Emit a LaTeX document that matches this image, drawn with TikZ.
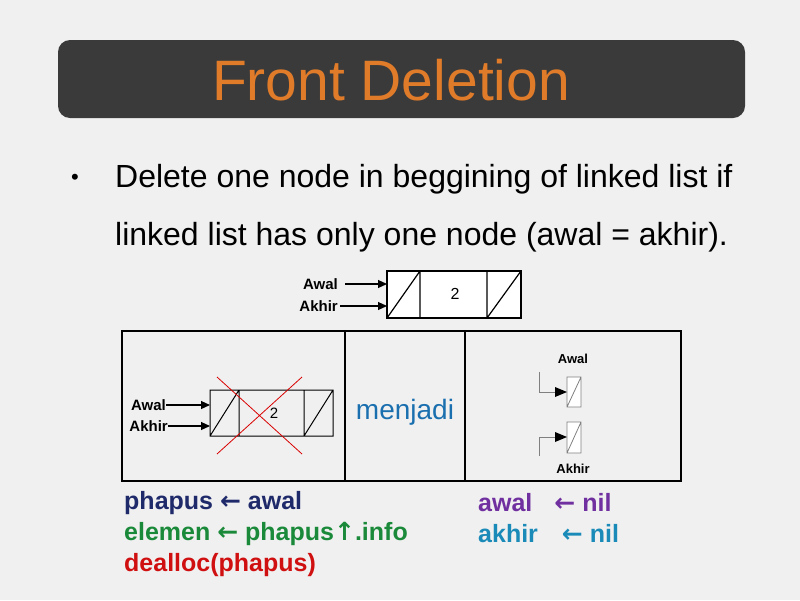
\documentclass[tikz,border=0pt]{standalone}
\usepackage{fontspec}
\setmainfont{Liberation Sans}
\newfontfamily\dv{DejaVu Sans}
\usetikzlibrary{arrows.meta}
\definecolor{bg}{HTML}{F0F0F0}
\definecolor{bar}{HTML}{3A3A3A}
\definecolor{ttl}{HTML}{E07B2A}
\definecolor{mj}{HTML}{1A6FAF}
\definecolor{cnavy}{HTML}{1F2A6B}
\definecolor{cgreen}{HTML}{1A8A3A}
\definecolor{cred}{HTML}{D01010}
\definecolor{cpur}{HTML}{7030A0}
\definecolor{cteal}{HTML}{1A8AB8}
\newcommand{\la}{{\dv\bfseries\char"2190}}
\tikzset{
 lbl/.style={font=\bfseries\fontsize{15}{17}\selectfont,inner sep=0pt},
 arr/.style={-{Triangle[length=9pt,width=8pt]},line width=1.2pt},
 cell/.style={draw,line width=1.2pt,fill=white},
 code/.style={font=\bfseries\fontsize{25}{29}\selectfont,anchor=west,inner sep=0pt},
}
\begin{document}
\begin{tikzpicture}[x=1pt,y=-1pt]
\useasboundingbox (0,0) rectangle (800,600);
\fill[bg] (0,0) rectangle (800,600);
\fill[bar,rounded corners=12pt] (58,40) rectangle (745,118);
\node[text=ttl,font=\fontsize{57}{64}\selectfont] (title) at (391,80) {Front Deletion};
\node[font=\fontsize{22}{26}\selectfont] (bul) at (75,179) {•};
\node[anchor=west,font=\fontsize{32}{38}\selectfont,inner sep=0pt] (l1) at (115,179) {Delete one node in beggining of linked list if};
\node[anchor=west,font=\fontsize{32}{38}\selectfont,inner sep=0pt] (l2) at (115,237) {linked list has only one node (awal = akhir).};
% top node
\draw[cell] (387,271) rectangle (521,318);
\draw[line width=1.2pt] (420,271)--(420,318) (487,271)--(487,318) (387,318)--(420,271) (487,318)--(521,271);
\node[font=\fontsize{16}{18}\selectfont] (v1) at (455,294) {2};
\node[lbl,anchor=east] (ta) at (338,284) {Awal};
\node[lbl,anchor=east] (tk) at (338,306) {Akhir};
\coordinate (ta2) at (387,284); \coordinate (tk2) at (387,306);
\draw[arr] (ta.east)++(7,0) -- (ta2);
\draw[arr] (tk.east)++(2,0) -- (tk2);
% table
\draw[line width=1.8pt] (122,331) rectangle (681,481) (345,331)--(345,481) (465,331)--(465,481);
% left list
\draw[line width=1pt] (210,390) rectangle (333,436) (239,390)--(239,436) (304,390)--(304,436) (210,436)--(239,390) (304,436)--(333,390);
\node[font=\fontsize{15}{17}\selectfont] (v2) at (274,413) {2};
\draw[red!85!black,line width=0.8pt] (217,377)--(302,454) (302,377)--(217,454);
\node[lbl,anchor=east] (la) at (166,405) {Awal};
\node[lbl,anchor=east] (lk) at (168,426) {Akhir};
\coordinate (la2) at (210,405); \coordinate (lk2) at (210,426);
\draw[arr] (la.east) -- (la2);
\draw[arr] (lk.east) -- (lk2);
\node[text=mj,font=\fontsize{28}{32}\selectfont] (mj) at (405,412) {menjadi};
% right
\draw[gray,line width=0.8pt,fill=white] (567,377) rectangle (581,407) (567,407)--(581,377);
\draw[gray,line width=0.8pt,fill=white] (567,422) rectangle (581,453) (567,453)--(581,422);
\node[lbl,font=\bfseries\fontsize{13}{15}\selectfont] (ra) at (573,359) {Awal};
\node[lbl,font=\bfseries\fontsize{13}{15}\selectfont] (rk) at (573,469) {Akhir};
\coordinate (b1) at (567,392); \coordinate (b2) at (567,437);
\draw[gray,line width=0.8pt] (539,372)--(539,392)--(556,392);
\draw[gray,line width=0.8pt] (539,456)--(539,437)--(556,437);
\fill (555,387)--(567,392)--(555,397)--cycle;
\fill (555,432)--(567,437)--(555,442)--cycle;
% code
\node[code,text=cnavy] (c1) at (124,503) {phapus \la\ awal};
\node[code,text=cgreen] (c2) at (124,534) {elemen \la\ phapus{\dv↑}.info};
\node[code,text=cred] (c3) at (124,565) {dealloc(phapus)};
\node[code,text=cpur] (c4) at (478,503) {awal\hspace{22pt}\la\ nil};
\node[code,text=cteal] (c5) at (478,534) {akhir\hspace{24pt}\la\ nil};
\end{tikzpicture}
\end{document}
